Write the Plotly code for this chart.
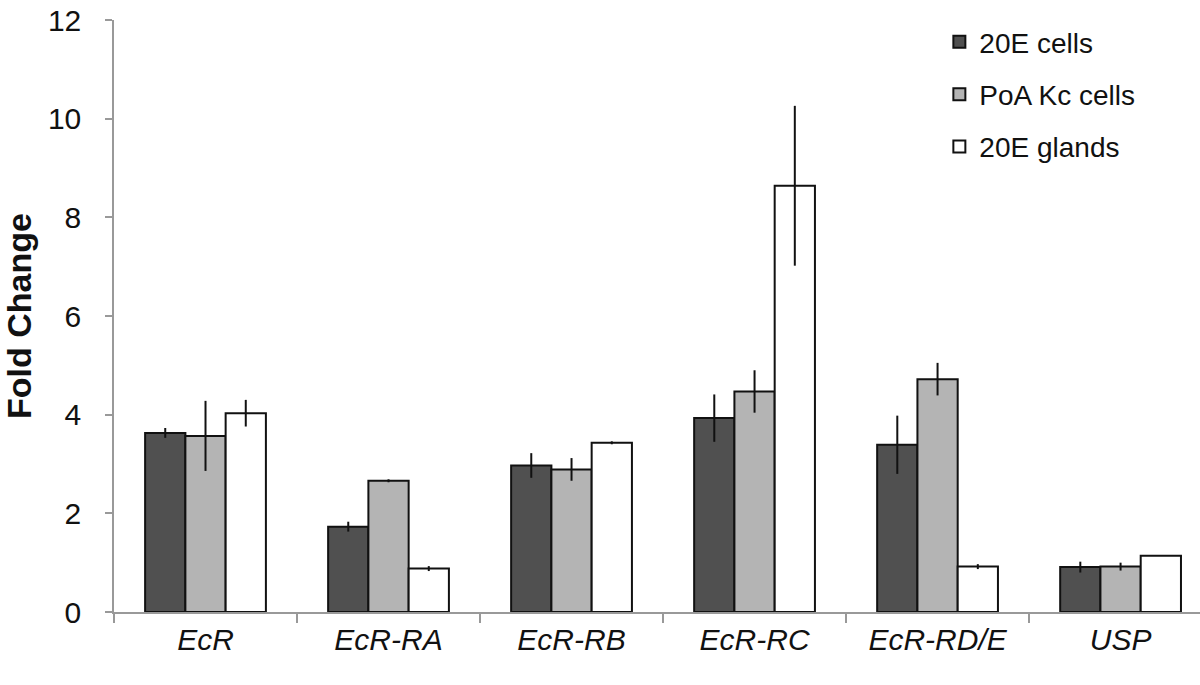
import plotly.graph_objects as go

categories = ["EcR", "EcR-RA", "EcR-RB", "EcR-RC", "EcR-RD/E", "USP"]
tick_labels = ["<i>EcR</i>", "<i>EcR-RA</i>", "<i>EcR-RB</i>", "<i>EcR-RC</i>", "<i>EcR-RD/E</i>", "<i>USP</i>"]

series_names = ["20E cells", "PoA Kc cells", "20E glands"]
cells_20e = [3.63, 1.73, 2.97, 3.93, 3.39, 0.91]
cells_20e_err = [0.10, 0.10, 0.25, 0.48, 0.59, 0.11]
poa_kc = [3.57, 2.66, 2.89, 4.47, 4.72, 0.92]
poa_kc_err = [0.71, 0.03, 0.23, 0.43, 0.33, 0.08]
glands_20e = [4.03, 0.88, 3.43, 8.64, 0.92, 1.14]
glands_20e_err = [0.27, 0.05, 0.03, 1.62, 0.05, 0.0]

colors = ["#505050", "#b4b4b4", "#ffffff"]

fig = go.Figure()
for i, (name, vals, errs) in enumerate(zip(series_names,
                                            [cells_20e, poa_kc, glands_20e],
                                            [cells_20e_err, poa_kc_err, glands_20e_err])):
    fig.add_trace(go.Bar(
        x=categories, y=vals, name=name, legendgroup=name,
        marker=dict(color=colors[i], line=dict(color="#111111", width=2)),
        error_y=dict(type="data", array=errs, visible=True, color="#111111",
                     thickness=2, width=0),
    ))

font_family = "Liberation Sans, Arial, sans-serif"
fig.update_layout(
    width=1200, height=685,
    margin=dict(l=114, r=0, t=20, b=73),
    paper_bgcolor="white", plot_bgcolor="white",
    barmode="group", bargap=0.34, bargroupgap=0,
    font=dict(family=font_family, color="#111111", size=28),
    legend=dict(x=0.76, y=1.005, xanchor="left", yanchor="top",
                font=dict(size=28, family=font_family, color="#111111"),
                tracegroupgap=13, traceorder="grouped", bgcolor="rgba(0,0,0,0)",
                itemwidth=30),
    showlegend=True,
)
fig.update_xaxes(
    type="category", range=[-0.5, 5.434], automargin=False,
    tickmode="array", tickvals=categories, ticktext=tick_labels,
    tickson="boundaries", ticks="outside", ticklen=9, tickcolor="#999999", tickwidth=1.5,
    showline=True, linecolor="#999999", linewidth=1.5,
    showgrid=False, zeroline=False,
    tickfont=dict(size=30, family=font_family, color="#111111"),
)
fig.update_yaxes(
    range=[0, 12], tickvals=[0, 2, 4, 6, 8, 10, 12], automargin=False,
    ticks="outside", ticklen=7, tickcolor="#999999", tickwidth=1.5,
    showline=True, linecolor="#999999", linewidth=1.5,
    showgrid=False, zeroline=False, ticklabelstandoff=18,
    ticklabeloverflow="allow",
    tickfont=dict(size=30, family=font_family, color="#111111"),
    title=dict(text="<b>Fold Change</b>", font=dict(size=34, family=font_family, color="#111111"),
               standoff=9),
)

fig.write_html("out.html", config={"displayModeBar": False},
               post_script="document.body.style.margin='0';document.body.style.padding='0';")
